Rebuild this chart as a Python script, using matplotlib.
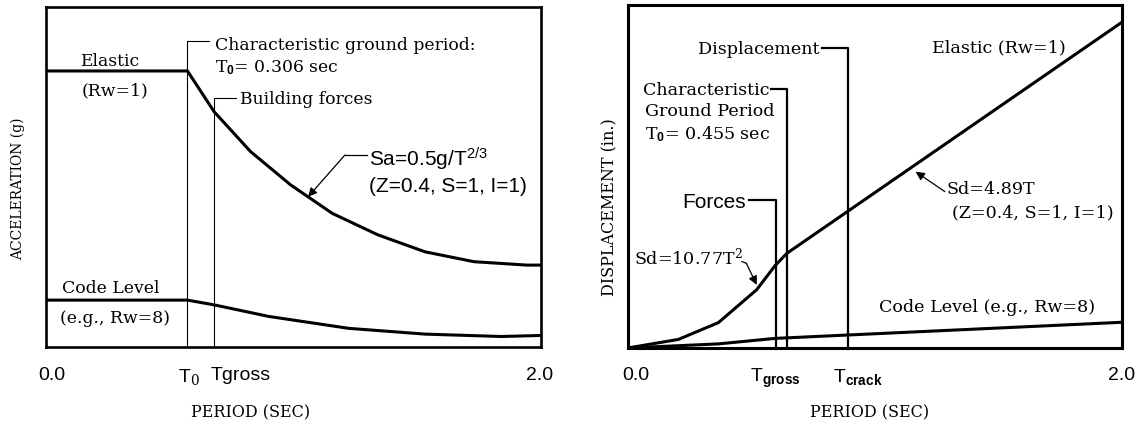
import matplotlib
matplotlib.use("Agg")
import matplotlib.pyplot as plt
from matplotlib.transforms import ScaledTranslation

# ---------------- data (schematic) ----------------
# Left panel: acceleration spectrum
left_elastic_T = [0.0, 0.572, 0.680, 0.827, 0.989, 1.158, 1.342, 1.533, 1.731, 1.944, 2.0]
left_elastic_Sa = [0.811, 0.811, 0.691, 0.574, 0.476, 0.392, 0.329, 0.279, 0.250, 0.240, 0.240]
left_code_T = [0.0, 0.572, 0.680, 0.901, 1.224, 1.533, 1.841, 2.0]
left_code_Sa = [0.137, 0.137, 0.123, 0.089, 0.054, 0.037, 0.030, 0.033]
T0_left = 0.572
Tgross_left = 0.680
left_tick_x = [0.0, T0_left, Tgross_left, 2.0]
left_tick_labels = ["0.0", r"T$_0$", "Tgross", "2.0"]

# Right panel: displacement spectrum
right_elastic_T = [0.0, 0.205, 0.367, 0.522, 0.596, 0.644, 2.0]
right_elastic_Sd = [0.0, 0.025, 0.074, 0.170, 0.240, 0.276, 0.950]
right_code_T = [0.0, 0.367, 0.596, 2.0]
right_code_Sd = [0.0, 0.012, 0.028, 0.075]
Tgross_right = 0.599
T0_right = 0.643
Tcrack_right = 0.891
right_tick_x = [0.0, Tgross_right, Tcrack_right, 2.0]
right_tick_labels = ["0.0", r"T$_\mathbf{gross}$", r"T$_\mathbf{crack}$", "2.0"]

# ---------------- style ----------------
plt.rcParams["mathtext.fontset"] = "custom"
plt.rcParams["mathtext.rm"] = "DejaVu Serif"
plt.rcParams["mathtext.it"] = "DejaVu Serif:italic"
plt.rcParams["mathtext.bf"] = "Liberation Sans:bold"
plt.rcParams["mathtext.sf"] = "Liberation Sans"

SERIF = "DejaVu Serif"
SANS = "Liberation Sans"
CURVE_LW = 2.2
FS_L = 12.4   # serif annotation size, left panel
FS_R = 12.6   # serif annotation size, right panel

fig = plt.figure(figsize=(11.43, 4.25), dpi=100)
axL = fig.add_axes([46 / 1143, (425 - 346.7) / 425, 494.6 / 1143, 340 / 425])
axR = fig.add_axes([627.7 / 1143, (425 - 348) / 425, 494.3 / 1143, 343 / 425])


def label(ax, x, y, s, fs, family, ha="left", **kw):
    """Place text so that the middle of its capitals sits at (x, y)."""
    ax.annotate(s, (x, y), xytext=(0, -0.36 * fs), textcoords="offset points",
                ha=ha, va="baseline", fontsize=fs, family=family, **kw)


def arrow(ax, xy_from, xy_to):
    ax.annotate("", xy=xy_to, xytext=xy_from,
                arrowprops=dict(arrowstyle="-|>", lw=0.9, color="black",
                                mutation_scale=13, shrinkA=0, shrinkB=0))


def setup(ax, frame_lw, ticks, labels, pad, dxs, has):
    ax.set_xlim(0, 2)
    ax.set_ylim(0, 1)
    ax.set_yticks([])
    ax.set_xticks(ticks, labels)
    ax.tick_params(axis="x", length=0, pad=pad, labelsize=14)
    for lab in ax.get_xticklabels():
        lab.set_family(SANS)
    for lab, dx, ha in zip(ax.get_xticklabels(), dxs, has):
        lab.set_transform(lab.get_transform() + ScaledTranslation(dx / 100, 0, fig.dpi_scale_trans))
        lab.set_ha(ha)
    for sp in ax.spines.values():
        sp.set_linewidth(frame_lw)


# ---------------- left panel ----------------
ax = axL
setup(ax, 1.9, left_tick_x, left_tick_labels, 14.3,
      [6, 1.5, -4, -1], ["center", "center", "left", "center"])
ax.plot(left_elastic_T, left_elastic_Sa, color="black", lw=CURVE_LW, solid_joinstyle="round")
ax.plot(left_code_T, left_code_Sa, color="black", lw=CURVE_LW, solid_joinstyle="round")

# leader lines for T0 and Tgross
ax.plot([T0_left, T0_left, 0.659], [0, 0.898, 0.898], color="black", lw=0.8)
ax.plot([Tgross_left, Tgross_left, 0.770], [0, 0.731, 0.731], color="black", lw=0.8)

label(ax, 0.257, 0.845, "Elastic", FS_L, SERIF, ha="center")
label(ax, 0.280, 0.757, "(Rw=1)", FS_L, SERIF, ha="center")
label(ax, 0.262, 0.176, "Code Level", FS_L, SERIF, ha="center")
label(ax, 0.280, 0.088, "(e.g., Rw=8)", FS_L, SERIF, ha="center")
label(ax, 0.682, 0.892, "Characteristic ground period:", FS_L, SERIF)
label(ax, 0.682, 0.826, r"T$_\mathbf{0}$= 0.306 sec", FS_L, SERIF)
label(ax, 0.785, 0.733, "Building forces", FS_L, SERIF)

label(ax, 1.305, 0.552, r"Sa=0.5g/T$^\mathsf{2/3}$", 15, SANS)
label(ax, 1.305, 0.477, "(Z=0.4, S=1, I=1)", 15, SANS)
ax.plot([1.298, 1.209], [0.564, 0.564], color="black", lw=0.9)
arrow(ax, (1.209, 0.564), (1.060, 0.441))

ax.set_ylabel("ACCELERATION (g)", family=SERIF, fontsize=10, va="center", ha="center")
ax.yaxis.set_label_coords(-0.0562, 0.466)
ax.set_xlabel("PERIOD (SEC)", family=SERIF, fontsize=11.5, va="center", ha="center")
ax.xaxis.set_label_coords(0.414, -0.195)

# ---------------- right panel ----------------
ax = axR
setup(ax, 2.2, right_tick_x, right_tick_labels, 13.4,
      [8, 0, 10, 0], ["center", "center", "center", "center"])
ax.plot(right_elastic_T, right_elastic_Sd, color="black", lw=CURVE_LW, solid_joinstyle="round")
ax.plot(right_code_T, right_code_Sd, color="black", lw=CURVE_LW, solid_joinstyle="round")

ax.plot([Tgross_right, Tgross_right, 0.492], [0, 0.431, 0.431], color="black", lw=1.6)
ax.plot([T0_right, T0_right, 0.578], [0, 0.754, 0.754], color="black", lw=1.6)
ax.plot([Tcrack_right, Tcrack_right, 0.785], [0, 0.876, 0.876], color="black", lw=1.6)

label(ax, 0.775, 0.876, "Displacement", FS_R, SERIF, ha="right")
label(ax, 0.574, 0.757, "Characteristic", FS_R, SERIF, ha="right")
label(ax, 0.071, 0.694, "Ground Period", FS_R, SERIF)
label(ax, 0.071, 0.628, r"T$_\mathbf{0}$= 0.455 sec", FS_R, SERIF)
label(ax, 0.479, 0.431, "Forces", 15, SANS, ha="right")
label(ax, 1.231, 0.879, "Elastic (Rw=1)", FS_R, SERIF)
label(ax, 1.290, 0.466, "Sd=4.89T", FS_R, SERIF)
label(ax, 1.313, 0.400, "(Z=0.4, S=1, I=1)", FS_R, SERIF)
arrow(ax, (1.283, 0.456), (1.165, 0.514))
label(ax, 0.025, 0.262, r"Sd=10.77T$^2$", FS_R, SERIF)
ax.plot([0.462, 0.480], [0.252, 0.247], color="black", lw=0.9)
arrow(ax, (0.480, 0.247), (0.522, 0.184))
label(ax, 1.017, 0.122, "Code Level (e.g., Rw=8)", FS_R, SERIF)

ax.set_ylabel("DISPLACEMENT (in.)", family=SERIF, fontsize=11.5, va="center", ha="center")
ax.yaxis.set_label_coords(-0.0354, 0.412)
ax.set_xlabel("PERIOD (SEC)", family=SERIF, fontsize=11.5, va="center", ha="center")
ax.xaxis.set_label_coords(0.490, -0.190)

fig.savefig("out.png", dpi=100)
